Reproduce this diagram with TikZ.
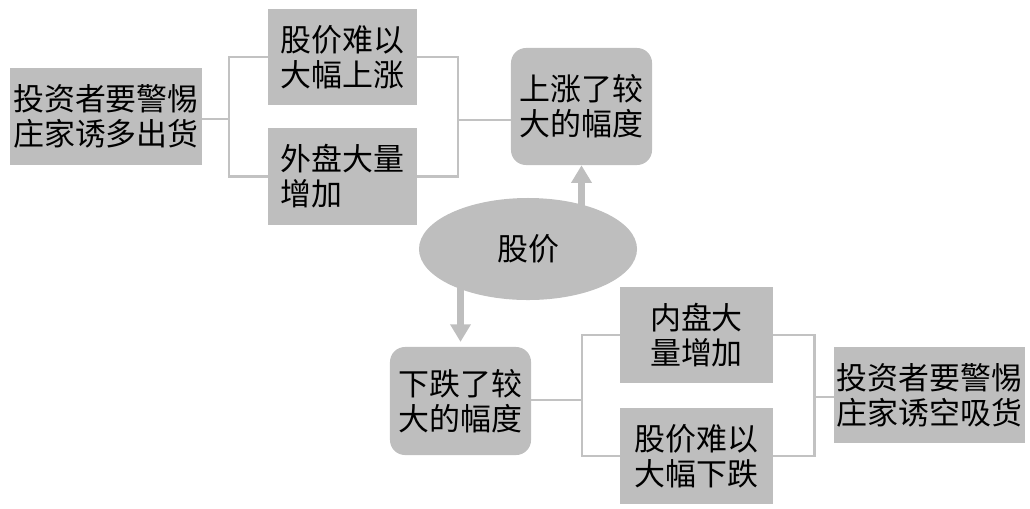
\documentclass[tikz,border=0pt]{standalone}
\usepackage{fontspec}
\setmainfont{Noto Sans CJK SC}
\usepackage{xcolor}
\usepackage{tikz}
\usetikzlibrary{shapes.geometric,arrows.meta}
\definecolor{boxgray}{RGB}{190,190,190}
\definecolor{linegray}{RGB}{194,194,194}

\begin{document}
\begin{tikzpicture}[x=0.025cm,y=-0.025cm]
		\useasboundingbox (0,0) rectangle (1030,508);
		\tikzstyle{every node}+=[fill=boxgray,inner sep=0pt,align=center,font=\fontsize{22pt}{25pt}\selectfont]
		\tikzstyle{box}=[rectangle,minimum height=2.42cm]
		\tikzstyle{rbox}=[rectangle,rounded corners=0.375cm]
		\tikzstyle{link}=[draw=linegray,line width=2pt]
		\tikzstyle{big}=[draw=boxgray,line width=5.5pt,-{Triangle[width=14pt,length=12.5pt]}]
		% upper half
		\node[box,minimum width=4.8cm] (a) at (106,116.5) {投资者要警惕\\庄家诱多出货};
		\node[box,minimum width=3.725cm] (b) at (342.5,57) {股价难以\\大幅上涨};
		\node[box,minimum width=3.725cm,align=left] (c) at (342.5,176.5) {外盘大量\\增加};
		\node[rbox,minimum width=3.525cm,minimum height=2.925cm] (d) at (581.5,106.5) {上涨了较\\大的幅度};
		\node[ellipse,minimum width=5.45cm,minimum height=2.55cm] (p) at (528,249) {股价};
		% lower half
		\node[rbox,minimum width=3.525cm,minimum height=2.7cm] (e) at (460.5,401) {下跌了较\\大的幅度};
		\node[box,minimum width=3.825cm] (f) at (696.5,335) {内盘大\\量增加};
		\node[box,minimum width=3.825cm] (g) at (696.5,456) {股价难以\\大幅下跌};
		\node[box,minimum width=4.775cm] (h) at (929.5,395) {投资者要警惕\\庄家诱空吸货};
		\coordinate (l1) at (229,119);
		\coordinate (r1) at (458,120);
		\coordinate (l2) at (582,400);
		\coordinate (r2) at (814.5,397);
		\draw[link] (b.west) -| (l1) |- (c.west);
		\draw[link] (a.east |- l1) -- (l1);
		\draw[link] (b.east) -| (r1) |- (c.east);
		\draw[link] (r1) -- (r1 -| d.west);
		\draw[link] (f.west) -| (l2) |- (g.west);
		\draw[link] (e.east |- l2) -- (l2);
		\draw[link] (f.east) -| (r2) |- (g.east);
		\draw[link] (r2) -- (r2 -| h.west);
		\draw[big] (p.center -| d.south) -- (d.south);
		\draw[big,shorten >=0.12cm] (p.center -| e.north) -- (e.north);
		\end{tikzpicture}
\end{document}
